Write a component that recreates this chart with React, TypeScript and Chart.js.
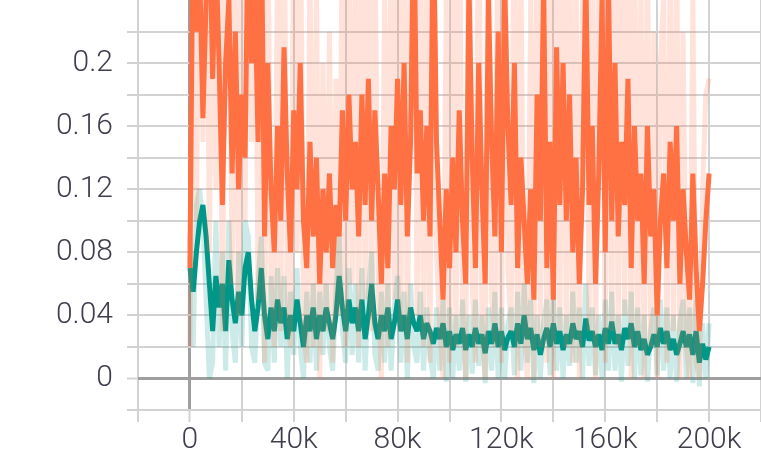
import { useEffect, useRef } from 'react';
import { Chart, registerables } from 'chart.js';

Chart.register(...registerables);

// Logging interval (training steps between two logged values)
const STEP_INTERVAL = 1250;

// Orange run: smoothed values
const orangeSmoothed = [
  0.07, 0.3, 0.22, 0.26, 0.165, 0.24, 0.3, 0.19, 0.27, 0.2,
  0.11, 0.2, 0.24, 0.13, 0.22, 0.12, 0.18, 0.14, 0.3, 0.2,
  0.25, 0.15, 0.3, 0.09, 0.2, 0.12, 0.08, 0.16, 0.1, 0.21,
  0.13, 0.08, 0.17, 0.12, 0.2, 0.1, 0.07, 0.15, 0.09, 0.14,
  0.06, 0.12, 0.08, 0.13, 0.07, 0.11, 0.09, 0.17, 0.1, 0.18,
  0.12, 0.15, 0.09, 0.18, 0.11, 0.19, 0.1, 0.17, 0.12, 0.06,
  0.13, 0.07, 0.16, 0.12, 0.19, 0.11, 0.2, 0.09, 0.15, 0.3,
  0.13, 0.17, 0.1, 0.16, 0.09, 0.3, 0.15, 0.1, 0.05, 0.12,
  0.07, 0.14, 0.08, 0.17, 0.1, 0.06, 0.25, 0.14, 0.07, 0.2,
  0.12, 0.06, 0.24, 0.15, 0.09, 0.22, 0.08, 0.25, 0.16, 0.11,
  0.2, 0.07, 0.14, 0.1, 0.06, 0.12, 0.05, 0.18, 0.1, 0.25,
  0.07, 0.15, 0.05, 0.21, 0.11, 0.2, 0.1, 0.18, 0.08, 0.14,
  0.06, 0.12, 0.26, 0.11, 0.16, 0.06, 0.13, 0.24, 0.08, 0.25,
  0.1, 0.2, 0.09, 0.15, 0.11, 0.19, 0.07, 0.16, 0.1, 0.13,
  0.06, 0.16, 0.09, 0.12, 0.04, 0.1, 0.13, 0.07, 0.15, 0.1,
  0.16, 0.06, 0.12, 0.08, 0.05, 0.13, 0.07, 0.03, 0.06, 0.1,
  0.13,
];

// Orange run: raw values
const orangeRaw = [
  0.02, 0.35, 0.1, 0.32, 0.15, 0.36, 0.08, 0.3, 0.12, 0.34,
  0.03, 0.3, 0.33, 0.06, 0.28, 0.04, 0.3, 0.1, 0.36, 0.15,
  0.34, 0.05, 0.35, 0.01, 0.3, 0.06, 0.02, 0.27, 0.03, 0.32,
  0.05, 0.02, 0.3, 0.08, 0.33, 0.03, 0.01, 0.26, 0.02, 0.25,
  0.0, 0.2, 0.03, 0.22, 0.01, 0.19, 0.04, 0.3, 0.02, 0.3,
  0.06, 0.26, 0.02, 0.33, 0.05, 0.32, 0.03, 0.3, 0.06, 0.0,
  0.24, 0.02, 0.3, 0.05, 0.33, 0.03, 0.34, 0.01, 0.26, 0.36,
  0.04, 0.3, 0.02, 0.27, 0.01, 0.36, 0.08, 0.03, 0.0, 0.24,
  0.01, 0.28, 0.02, 0.33, 0.04, 0.0, 0.36, 0.06, 0.01, 0.34,
  0.03, 0.0, 0.36, 0.05, 0.02, 0.35, 0.01, 0.36, 0.07, 0.03,
  0.33, 0.0, 0.26, 0.03, 0.0, 0.24, 0.0, 0.32, 0.02, 0.36,
  0.01, 0.3, 0.0, 0.34, 0.03, 0.33, 0.02, 0.3, 0.01, 0.26,
  0.0, 0.25, 0.36, 0.03, 0.3, 0.0, 0.26, 0.35, 0.01, 0.36,
  0.03, 0.33, 0.02, 0.28, 0.04, 0.32, 0.0, 0.3, 0.02, 0.25,
  0.0, 0.28, 0.02, 0.22, 0.0, 0.2, 0.24, 0.01, 0.26, 0.03,
  0.28, 0.0, 0.22, 0.02, 0.0, 0.24, 0.01, 0.0, 0.12, 0.18,
  0.19,
];

// Teal run: smoothed values
const tealSmoothed = [
  0.07, 0.055, 0.08, 0.1, 0.11, 0.09, 0.06, 0.03, 0.065, 0.045,
  0.06, 0.03, 0.075, 0.05, 0.035, 0.055, 0.04, 0.07, 0.08, 0.05,
  0.03, 0.045, 0.07, 0.04, 0.025, 0.045, 0.03, 0.05, 0.035, 0.045,
  0.025, 0.04, 0.03, 0.05, 0.035, 0.02, 0.04, 0.03, 0.045, 0.025,
  0.04, 0.03, 0.045, 0.035, 0.025, 0.04, 0.065, 0.045, 0.03, 0.05,
  0.035, 0.045, 0.03, 0.05, 0.025, 0.04, 0.06, 0.035, 0.025, 0.04,
  0.03, 0.045, 0.025, 0.035, 0.05, 0.03, 0.04, 0.025, 0.045, 0.035,
  0.03, 0.04, 0.025, 0.035, 0.03, 0.022, 0.032, 0.025, 0.035, 0.02,
  0.03, 0.018, 0.028, 0.022, 0.032, 0.018, 0.028, 0.02, 0.032, 0.022,
  0.028, 0.016, 0.03, 0.022, 0.035, 0.02, 0.03, 0.018, 0.026, 0.03,
  0.02, 0.035, 0.022, 0.04, 0.025, 0.032, 0.018, 0.028, 0.015, 0.025,
  0.032, 0.02, 0.035, 0.022, 0.03, 0.018, 0.028, 0.022, 0.035, 0.025,
  0.03, 0.02, 0.038, 0.024, 0.03, 0.02, 0.028, 0.018, 0.032, 0.022,
  0.036, 0.022, 0.028, 0.018, 0.032, 0.025, 0.035, 0.02, 0.03, 0.018,
  0.025, 0.015, 0.02, 0.028, 0.02, 0.032, 0.022, 0.03, 0.018, 0.025,
  0.015, 0.022, 0.03, 0.02, 0.028, 0.015, 0.03, 0.01, 0.022, 0.012,
  0.02,
];

// Teal run: raw values
const tealRaw = [
  0.09, 0.02, 0.11, 0.12, 0.1, 0.05, 0.0, 0.01, 0.1, 0.02,
  0.08, 0.005, 0.1, 0.03, 0.01, 0.08, 0.02, 0.1, 0.09, 0.02,
  0.01, 0.06, 0.09, 0.01, 0.005, 0.065, 0.01, 0.07, 0.02, 0.065,
  0.0, 0.055, 0.015, 0.07, 0.02, 0.0, 0.055, 0.01, 0.06, 0.005,
  0.055, 0.015, 0.06, 0.02, 0.005, 0.055, 0.09, 0.03, 0.01, 0.07,
  0.015, 0.06, 0.01, 0.07, 0.005, 0.055, 0.08, 0.015, 0.005, 0.055,
  0.01, 0.06, 0.005, 0.045, 0.065, 0.01, 0.055, 0.0, 0.06, 0.02,
  0.01, 0.055, 0.005, 0.045, 0.015, 0.0, 0.045, 0.005, 0.05, -0.002,
  0.045, 0.0, 0.04, 0.005, 0.05, -0.002, 0.04, 0.003, 0.05, 0.008,
  0.04, -0.003, 0.045, 0.005, 0.055, 0.0, 0.045, 0.0, 0.035, 0.045,
  0.002, 0.055, 0.005, 0.06, 0.01, 0.05, -0.003, 0.04, 0.0, 0.035,
  0.05, 0.002, 0.055, 0.005, 0.045, 0.0, 0.04, 0.008, 0.055, 0.01,
  0.045, 0.0, 0.06, 0.008, 0.045, 0.002, 0.04, 0.0, 0.05, 0.005,
  0.055, 0.005, 0.04, -0.002, 0.05, 0.008, 0.055, 0.0, 0.045, 0.002,
  0.04, -0.002, 0.03, 0.045, 0.002, 0.05, 0.005, 0.045, 0.0, 0.04,
  -0.002, 0.035, 0.05, 0.0, 0.045, -0.003, 0.05, -0.005, 0.035, 0.0,
  0.035,
];

const xTickValues = [0, 40000, 80000, 120000, 160000, 200000];
const xTickLabels = ['0', '40k', '80k', '120k', '160k', '200k'];
const yTickValues = [0, 0.04, 0.08, 0.12, 0.16, 0.2];
const yTickLabels = ['0', '0.04', '0.08', '0.12', '0.16', '0.2'];

const toPoints = (values: number[]) =>
  values.map((y, i) => ({ x: i * STEP_INTERVAL, y }));

const labelFor = (value: number, vals: number[], labels: string[]) => {
  const idx = vals.findIndex((v) => Math.abs(v - value) < 1e-6 * Math.max(1, Math.abs(v)));
  return idx >= 0 ? labels[idx] : '';
};

const GRID = '#d2d2d2';
const ZERO = '#9e9e9e';

export default function App() {
  const ref = useRef<HTMLCanvasElement | null>(null);

  useEffect(() => {
    document.body.style.margin = '0';
    const canvas = ref.current;
    if (!canvas) return;
    const tickFont = { family: 'Roboto', size: 30, weight: 300 as any };
    const gridColor = (ctx: any) =>
      ctx.tick && Math.abs(ctx.tick.value) < 1e-9 ? ZERO : GRID;
    const gridWidth = (ctx: any) =>
      ctx.tick && Math.abs(ctx.tick.value) < 1e-9 ? 3 : 2;

    const chart = new Chart(canvas, {
      type: 'line',
      data: {
        datasets: [
          {
            data: toPoints(orangeSmoothed),
            borderColor: '#ff7043',
            borderWidth: 5,
          },
          {
            data: toPoints(orangeRaw),
            borderColor: 'rgba(255,112,67,0.2)',
            borderWidth: 5,
          },
          {
            data: toPoints(tealSmoothed),
            borderColor: '#009688',
            borderWidth: 5,
          },
          {
            data: toPoints(tealRaw),
            borderColor: 'rgba(0,150,136,0.2)',
            borderWidth: 5,
          },
        ].map((d) => ({
          ...d,
          pointRadius: 0,
          tension: 0,
          fill: false,
          borderJoinStyle: 'bevel' as const,
        })),
      },
      options: {
        animation: false,
        responsive: false,
        devicePixelRatio: 1,
        layout: { padding: 0 },
        plugins: {
          legend: { display: false },
          tooltip: { enabled: false },
        },
        scales: {
          x: {
            type: 'linear',
            min: -20000,
            max: 220000,
            border: { display: false },
            grid: {
              color: gridColor,
              lineWidth: gridWidth,
              tickLength: 12,
              tickColor: GRID,
              tickWidth: 2,
            },
            ticks: {
              stepSize: 20000,
              autoSkip: false,
              maxRotation: 0,
              padding: 0,
              color: '#3e3e4c',
              font: tickFont,
              callback: (v: any) => labelFor(Number(v), xTickValues, xTickLabels),
            },
            afterFit: (s: any) => {
              s.height = 51;
              s.paddingLeft = 0;
              s.paddingRight = 0;
            },
          },
          y: {
            type: 'linear',
            min: -0.02,
            max: 0.24,
            border: { display: false },
            grid: {
              color: gridColor,
              lineWidth: gridWidth,
              tickLength: 11,
              tickColor: GRID,
              tickWidth: 2,
            },
            ticks: {
              stepSize: 0.02,
              autoSkip: false,
              padding: 14,
              color: '#3e3e4c',
              font: tickFont,
              callback: (v: any) => {
                const n = Number(v);
                if (Math.abs(n - 0.24) < 1e-6) return null as any;
                return labelFor(n, yTickValues, yTickLabels);
              },
            },
            afterFit: (s: any) => {
              s.width = 138;
              s.paddingTop = 0;
              s.paddingBottom = 0;
            },
          },
        },
      },
    });
    return () => chart.destroy();
  }, []);

  return (
    <div style={{ width: 761, height: 461, position: 'relative' }}>
      <canvas ref={ref} width={761} height={461} style={{ display: 'block' }} />
    </div>
  );
}
